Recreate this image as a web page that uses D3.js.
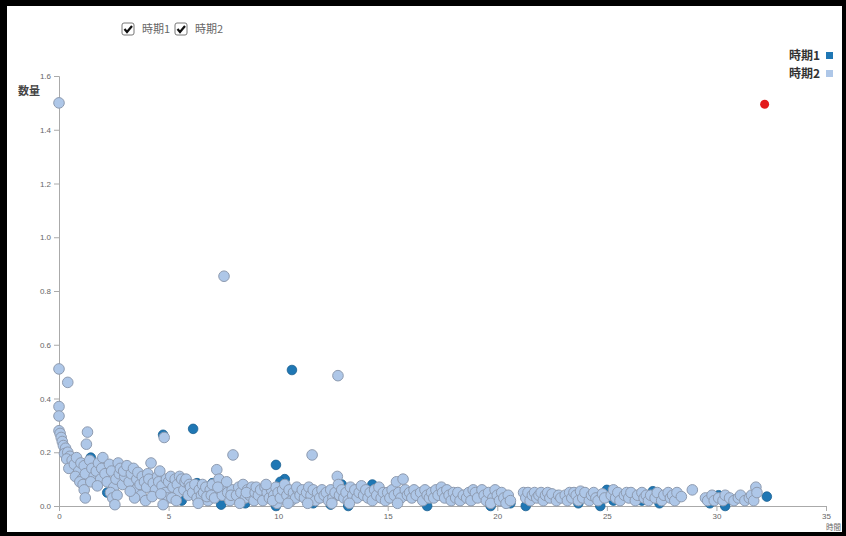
<!DOCTYPE html>
<html><head><meta charset="utf-8">
<script src="https://cdn.jsdelivr.net/npm/d3@7"></script>
<style>
html,body{margin:0;padding:0;background:#fff;}
svg{display:block;font-family:"Noto Sans CJK JP","Noto Sans",sans-serif;}
</style></head>
<body><svg id="c" width="846" height="536"></svg>
<script>
const seriesNames = ["時期1","時期2"];
const xTicks = [0,5,10,15,20,25,30,35];
const yTicks = [0.0,0.2,0.4,0.6,0.8,1.0,1.2,1.4,1.6];
const xLabel = "時間";
const yLabel = "数量";

// 時期1 (dark)
const period1 = [
[10.63,0.506],[6.12,0.287],[4.75,0.265],[9.9,0.153],[1.45,0.18],[10.3,0.10],[32.3,0.035],[5.6,0.02],
[7.4,0.005],[8.5,0.01],[6.3,0.085],[7.0,0.085],[10.1,0.09],[6.8,0.05],[9.9,0.0],[12.9,0.08],[13.2,0.0],
[11.6,0.01],[12.4,0.005],[14.3,0.08],[15.4,0.04],[16.8,0.0],[17.3,0.05],[18.7,0.03],[19.7,0.0],[20.4,0.03],
[20.6,0.01],[21.3,0.0],[22.7,0.04],[23.7,0.01],[24.7,0.0],[25.0,0.06],[25.3,0.02],[26.6,0.02],[27.1,0.055],
[27.4,0.01],[28.2,0.04],[29.7,0.01],[29.9,0.035],[30.1,0.04],[30.4,0.0],[31.3,0.025],[3.6,0.06],[2.2,0.05]
];

// 時期2 (light)
const period2 = [
[0,1.50],[0,0.51],[0.4,0.46],[0,0.37],[0,0.335],[0,0.28],[0.05,0.27],[0.1,0.255],[0.15,0.24],[0.2,0.225],
[0.3,0.215],[0.25,0.195],[0.4,0.2],[0.5,0.185],[0.35,0.175],[0.6,0.17],[0.45,0.14],[0.7,0.155],[0.8,0.18],
[0.9,0.13],[0.75,0.11],[1.0,0.16],[1.05,0.1],[0.95,0.09],
[1.3,0.275],[1.25,0.23],[1.15,0.15],[1.2,0.12],[1.1,0.08],[1.15,0.06],[1.2,0.03],[1.4,0.17],[1.5,0.14],
[1.6,0.11],[1.45,0.09],[1.7,0.13],[1.8,0.16],[1.9,0.1],[1.75,0.075],[2.0,0.18],[1.95,0.14],
[2.1,0.12],[2.2,0.09],[2.3,0.155],[2.4,0.13],[2.5,0.07],[2.35,0.05],[2.45,0.03],[2.6,0.1],[2.7,0.16],
[2.75,0.12],[2.8,0.14],[2.9,0.08],[2.65,0.04],[2.55,0.005],[3.0,0.11],[2.95,0.13],
[3.1,0.15],[3.2,0.09],[3.3,0.12],[3.4,0.14],[3.5,0.06],[3.55,0.1],[3.6,0.125],[3.7,0.08],[3.75,0.04],
[3.8,0.11],[3.9,0.09],[3.45,0.03],[3.25,0.055],[4.0,0.07],[4.05,0.12],[3.95,0.02],
[4.2,0.16],[4.1,0.1],[4.3,0.085],[4.4,0.06],[4.5,0.11],[4.6,0.13],[4.55,0.09],[4.7,0.075],[4.8,0.255],
[4.85,0.05],[4.9,0.1],[4.95,0.03],[4.25,0.035],[4.75,0.005],[4.65,0.045],
[5.0,0.09],[5.1,0.11],[5.2,0.07],[5.3,0.1],[5.4,0.08],[5.5,0.11],[5.45,0.05],[5.6,0.1],[5.7,0.06],
[5.75,0.09],[5.8,0.1],[5.9,0.04],[5.15,0.03],[5.35,0.02],[5.95,0.08],
[6.0,0.07],[6.1,0.05],[6.2,0.08],[6.3,0.03],[6.4,0.06],[6.5,0.04],[6.55,0.08],[6.6,0.05],[6.7,0.07],
[6.8,0.02],[6.9,0.06],[6.35,0.01],[6.75,0.035],[6.95,0.04],[7.0,0.08],
[7.1,0.03],[7.2,0.135],[7.3,0.1],[7.35,0.06],[7.45,0.04],[7.53,0.855],[7.6,0.07],[7.7,0.05],[7.8,0.02],
[7.9,0.06],[7.94,0.19],[7.85,0.04],[7.65,0.09],[7.25,0.07],
[8.1,0.04],[8.2,0.07],[8.3,0.05],[8.4,0.08],[8.5,0.03],[8.6,0.06],[8.7,0.04],[8.8,0.07],[8.9,0.02],
[8.25,0.01],[8.55,0.05],[8.95,0.05],
[9.0,0.07],[9.1,0.04],[9.2,0.06],[9.3,0.02],[9.4,0.07],[9.5,0.05],[9.6,0.03],[9.7,0.06],[9.8,0.04],
[9.9,0.07],[9.45,0.08],[9.95,0.01],[9.75,0.02],
[10.0,0.05],[10.1,0.03],[10.2,0.06],[10.3,0.08],[10.4,0.04],[10.5,0.06],[10.6,0.02],[10.7,0.05],
[10.8,0.03],[10.9,0.06],[10.45,0.01],[10.85,0.07],
[11.0,0.04],[11.1,0.06],[11.2,0.03],[11.3,0.05],[11.4,0.07],[11.55,0.19],[11.5,0.04],[11.6,0.06],
[11.7,0.02],[11.8,0.05],[11.9,0.03],[11.35,0.01],
[12.0,0.06],[12.1,0.04],[12.2,0.05],[12.3,0.02],[12.4,0.06],[12.5,0.03],[12.6,0.05],[12.73,0.485],
[12.7,0.11],[12.75,0.08],[12.8,0.04],[12.9,0.06],[12.45,0.01],
[13.0,0.03],[13.1,0.05],[13.2,0.02],[13.3,0.07],[13.4,0.04],[13.5,0.06],[13.6,0.03],[13.7,0.05],
[13.8,0.075],[13.9,0.04],[13.25,0.01],
[14.0,0.06],[14.1,0.03],[14.2,0.05],[14.3,0.02],[14.4,0.06],[14.5,0.04],[14.6,0.07],[14.7,0.03],
[14.8,0.05],[14.9,0.02],
[15.0,0.05],[15.1,0.03],[15.2,0.06],[15.3,0.04],[15.4,0.09],[15.5,0.05],[15.6,0.03],[15.7,0.1],
[15.8,0.06],[15.9,0.04],[15.45,0.01],
[16.0,0.05],[16.1,0.03],[16.2,0.06],[16.3,0.04],[16.5,0.05],[16.6,0.02],[16.7,0.06],[16.8,0.04],[16.9,0.03],
[17.0,0.05],[17.1,0.03],[17.2,0.06],[17.3,0.04],[17.45,0.07],[17.5,0.05],[17.6,0.03],[17.7,0.06],
[17.8,0.04],[17.9,0.02],
[18.0,0.05],[18.1,0.03],[18.2,0.05],[18.3,0.02],[18.45,0.04],[18.6,0.03],[18.7,0.05],[18.8,0.02],[18.9,0.06],
[19.0,0.05],[19.1,0.03],[19.3,0.06],[19.4,0.04],[19.5,0.02],[19.6,0.05],[19.8,0.03],[19.9,0.06],[19.7,0.01],
[20.0,0.04],[20.1,0.02],[20.2,0.05],[20.3,0.03],[20.5,0.04],[20.4,0.01],[20.6,0.02],
[21.2,0.05],[21.3,0.03],[21.4,0.05],[21.5,0.02],[21.6,0.04],[21.7,0.05],[21.8,0.03],[21.9,0.04],
[22.0,0.05],[22.1,0.02],[22.2,0.04],[22.3,0.05],[22.4,0.03],[22.5,0.045],[22.7,0.02],[22.8,0.04],[22.9,0.03],
[23.1,0.04],[23.2,0.02],[23.3,0.05],[23.4,0.03],[23.5,0.05],[23.6,0.04],[23.7,0.02],[23.8,0.055],[23.9,0.03],
[24.0,0.05],[24.2,0.02],[24.3,0.04],[24.4,0.05],[24.5,0.03],[24.6,0.02],[24.8,0.045],[24.9,0.03],
[25.2,0.04],[25.3,0.06],[25.4,0.03],[25.5,0.05],[25.6,0.02],[25.8,0.04],[25.9,0.05],
[26.0,0.03],[26.1,0.05],[26.3,0.02],[26.4,0.04],[26.6,0.05],[26.7,0.03],[26.8,0.04],[26.9,0.02],
[27.0,0.04],[27.2,0.03],[27.3,0.05],[27.5,0.02],[27.6,0.04],[27.8,0.05],[27.9,0.03],
[28.0,0.04],[28.1,0.02],[28.2,0.05],[28.4,0.035],[28.9,0.06],
[29.5,0.03],[29.6,0.02],[29.8,0.04],[29.9,0.02],
[30.1,0.03],[30.3,0.02],[30.4,0.04],[30.6,0.03],[30.8,0.02],[31.0,0.03],[31.1,0.04],[31.3,0.02],
[31.5,0.03],[31.6,0.04],[31.7,0.02],[31.8,0.07],[31.85,0.05]
];

// highlighted point
const highlight = [[32.2,1.495]];

const colors = {"時期1":"#1f77b4","時期2":"#aec7e8"};

const svg = d3.select("#c");
const x = d3.scaleLinear().domain([0,35]).range([59,826]);
const y = d3.scaleLinear().domain([0,1.6]).range([506,76]);

// axes
const gx = svg.append("g").attr("transform","translate(0,506)")
  .call(d3.axisBottom(x).tickValues(xTicks).tickFormat(d3.format("d")).tickSize(5));
const gy = svg.append("g").attr("transform","translate(59,0)")
  .call(d3.axisLeft(y).tickValues(yTicks).tickFormat(d3.format(".1f")).tickSize(5));
[gx,gy].forEach(g=>{
  g.select(".domain").attr("stroke","#aaa");
  g.selectAll(".tick line").attr("stroke","#aaa");
  g.selectAll(".tick text").attr("fill","#666").style("font-size","8px")
   .style("font-family","Arial,'Liberation Sans',sans-serif");
});
gx.selectAll(".tick text").attr("dy","0.6em");

svg.append("text").attr("x",18).attr("y",95).text(yLabel)
  .attr("fill","#444").style("font-size","11px").style("font-weight","bold");
svg.append("text").attr("x",841).attr("y",530).attr("text-anchor","end").text(xLabel)
  .attr("fill","#666").style("font-size","7.5px");

// points
svg.append("g").selectAll("circle").data(period1).join("circle")
  .attr("cx",d=>x(d[0])).attr("cy",d=>y(d[1])).attr("r",4.8)
  .attr("fill",colors["時期1"]).attr("stroke","#1a5f90").attr("stroke-width",0.8);
svg.append("g").selectAll("circle").data(period2).join("circle")
  .attr("cx",d=>x(d[0])).attr("cy",d=>y(d[1])).attr("r",5.3)
  .attr("fill",colors["時期2"]).attr("stroke","#8e9bb0").attr("stroke-width",1);
svg.append("g").selectAll("circle").data(highlight).join("circle")
  .attr("cx",d=>x(d[0])).attr("cy",d=>y(d[1])).attr("r",4.5)
  .attr("fill","#e31a1c");

// legend (top right)
const lg = svg.append("g");
seriesNames.forEach((n,i)=>{
  const yy = 60 + i*18;
  lg.append("text").attr("x",820).attr("y",yy).attr("text-anchor","end").text(n)
    .attr("fill","#333").style("font-size","12px").style("font-weight","bold");
  lg.append("rect").attr("x",826).attr("y",yy-8).attr("width",7).attr("height",7)
    .attr("fill",colors[n]);
});

// checkboxes (top)
const cb = svg.append("g");
const cbX = [122,175];
seriesNames.forEach((n,i)=>{
  const bx = cbX[i], by = 23;
  cb.append("rect").attr("x",bx).attr("y",by).attr("width",12).attr("height",12).attr("rx",2)
    .attr("fill","#fff").attr("stroke","#777").attr("stroke-width",1);
  cb.append("path").attr("d",`M${bx+2.5},${by+6} L${bx+5},${by+9} L${bx+10},${by+3}`)
    .attr("fill","none").attr("stroke","#111").attr("stroke-width",2.2);
  cb.append("text").attr("x",bx+20).attr("y",by+10).text(n)
    .attr("fill","#666").style("font-size","11px");
});

// black frame
const fr = svg.append("g").attr("fill","#000");
fr.append("rect").attr("x",0).attr("y",0).attr("width",846).attr("height",6);
fr.append("rect").attr("x",0).attr("y",0).attr("width",7).attr("height",536);
fr.append("rect").attr("x",842).attr("y",0).attr("width",4).attr("height",536);
fr.append("rect").attr("x",0).attr("y",532).attr("width",846).attr("height",4);
</script></body></html>
